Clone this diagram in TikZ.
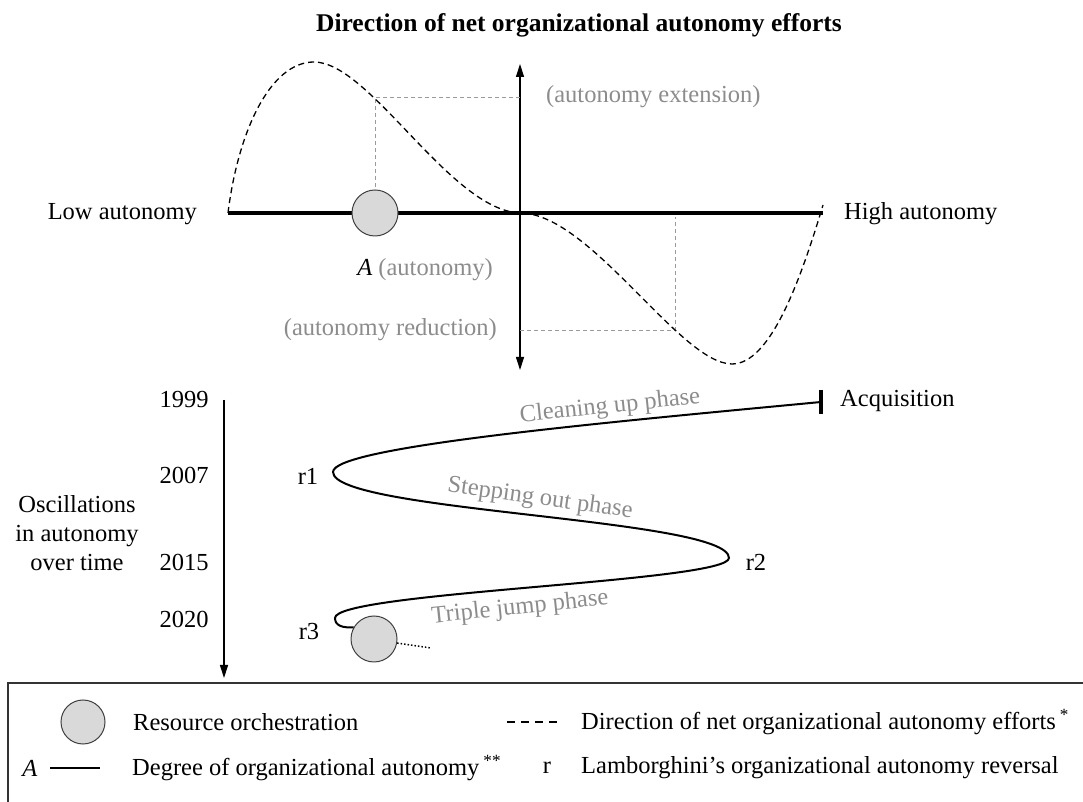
\documentclass[tikz,border=0pt]{standalone}
\usepackage{fontspec}
\setmainfont{Liberation Serif}
\usepackage{tikz}
\usetikzlibrary{arrows.meta}
\definecolor{labelgray}{HTML}{8C8C8C}
\definecolor{guidegray}{HTML}{9A9A9A}
\definecolor{ballfill}{HTML}{D9D9D9}

\begin{document}
\begin{tikzpicture}[x=1pt, y=1pt, inner sep=0pt, font=\fontsize{24.5}{29}\selectfont,
	ball/.style={circle, draw=black!75, fill=ballfill, line width=1pt, minimum size=46pt},
	phase/.style={text=labelgray},
	guide/.style={draw=guidegray, dash pattern=on 4pt off 3pt, line width=0.9pt},
	effort/.style={dash pattern=on 6pt off 4pt, line width=1.3pt},
	tip/.style={-{Triangle[length=13pt,width=8pt]}}]
	\useasboundingbox (0,0) rectangle (1083,802);
	% upper panel
	\node[font=\fontsize{25.5}{30}\selectfont\bfseries] (title) at (579,777) {Direction of net organizational autonomy efforts};
	\coordinate (axbottom) at (520,432);
	\coordinate (axtop) at (520,738);
	\draw[line width=1.2pt, {Triangle[length=13pt,width=8pt]}-{Triangle[length=13pt,width=8pt]}] (axbottom) -- (axtop);
	\coordinate (lowend) at (228,589);
	\coordinate (highend) at (823,589);
	\draw[line width=4pt] (lowend) -- (highend);
	\node[anchor=east] (low) at (197,588) {Low autonomy};
	\node[anchor=west] (high) at (844,588) {High autonomy};
	\node[ball] (orch) at (375,589) {};
	\node (alabel) at (425,532) {\textit{A} \textcolor{labelgray}{(autonomy)}};
	\coordinate (ext) at (520,705);
	\draw[guide] (ext) -| (orch.north);
	\node[anchor=west, text=labelgray] (extlabel) at (546,705) {(autonomy extension)};
	\coordinate (red) at (520,472);
	\coordinate (redfoot) at (675,585);
	\draw[guide] (red) -| (redfoot);
	\node[anchor=east, text=labelgray] (redlabel) at (497,472) {(autonomy reduction)};
	\draw[effort] (lowend) .. controls (238,670) and (270,740) .. (314,740)
		.. controls (370,740) and (450,592) .. (520,589)
		.. controls (590,589) and (680,438) .. (732,438)
		.. controls (770,438) and (800,520) .. (823,597);
	% lower panel
	\foreach \yr/\yy in {1999/402, 2007/327, 2015/240, 2020/183}
		\node (y\yr) at (184,\yy) {\yr};
	\node[align=center] (osc) at (77,269) {Oscillations\\in autonomy\\over time};
	\coordinate (tstart) at (224,402);
	\coordinate (tend) at (224,124);
	\draw[tip, line width=1.2pt] (tstart) -- (tend);
	\coordinate (acq) at (821,400);
	\coordinate (turn1) at (333,330);
	\coordinate (turn2) at (729,244);
	\coordinate (turn3) at (335,184);
	\node[ball] (orch2) at (374,163) {};
	\draw[line width=2pt] (acq) .. controls (600,379) and (333,355) .. (turn1)
		.. controls (333,290) and (729,284) .. (turn2)
		.. controls (729,220) and (335,210) .. (turn3)
		.. controls (335,176) and (343,174) .. (orch2.150);
	\draw[line width=3.5pt] ([yshift=-12pt]acq) -- ([yshift=12pt]acq);
	\node[anchor=west] (acqlabel) at (840,401) {Acquisition};
	\node (r1) at (308,326) {r1};
	\node (r2) at (756,240) {r2};
	\node (r3) at (309,170) {r3};
	\coordinate (trail) at (431,154);
	\draw[dotted, line width=1.5pt] (orch2.-10) -- (trail);
	\node[phase, rotate=6] (clean) at (610,395) {Cleaning up phase};
	\node[phase, rotate=-8] (step) at (540,303) {Stepping out phase};
	\node[phase, rotate=6] (triple) at (520,194) {Triple jump phase};
	% legend
	\draw[line width=1.2pt, draw=black!80] (8,-20) rectangle (1100,119);
	\node[ball, minimum size=44pt] (keyball) at (83,80) {};
	\node[anchor=west] (keyballtext) at (133,80) {Resource orchestration};
	\coordinate (keydasha) at (507,80);
	\coordinate (keydashb) at (559,80);
	\draw[effort, dash pattern=on 8pt off 6pt] (keydasha) -- (keydashb);
	\node[anchor=west] (keydashtext) at (581,80) {Direction of net organizational autonomy efforts\,\textsuperscript{*}};
	\node (keyA) at (30,34) {\textit{A}};
	\coordinate (keylinea) at (50,34);
	\coordinate (keylineb) at (100,34);
	\draw[line width=1.5pt] (keylinea) -- (keylineb);
	\node[anchor=west] (keylinetext) at (132,34) {Degree of organizational autonomy\,\textsuperscript{**}};
	\node (keyr) at (547,34) {r};
	\node[anchor=west] (keyrtext) at (581,34) {Lamborghini's organizational autonomy reversal};
\end{tikzpicture}
\end{document}
